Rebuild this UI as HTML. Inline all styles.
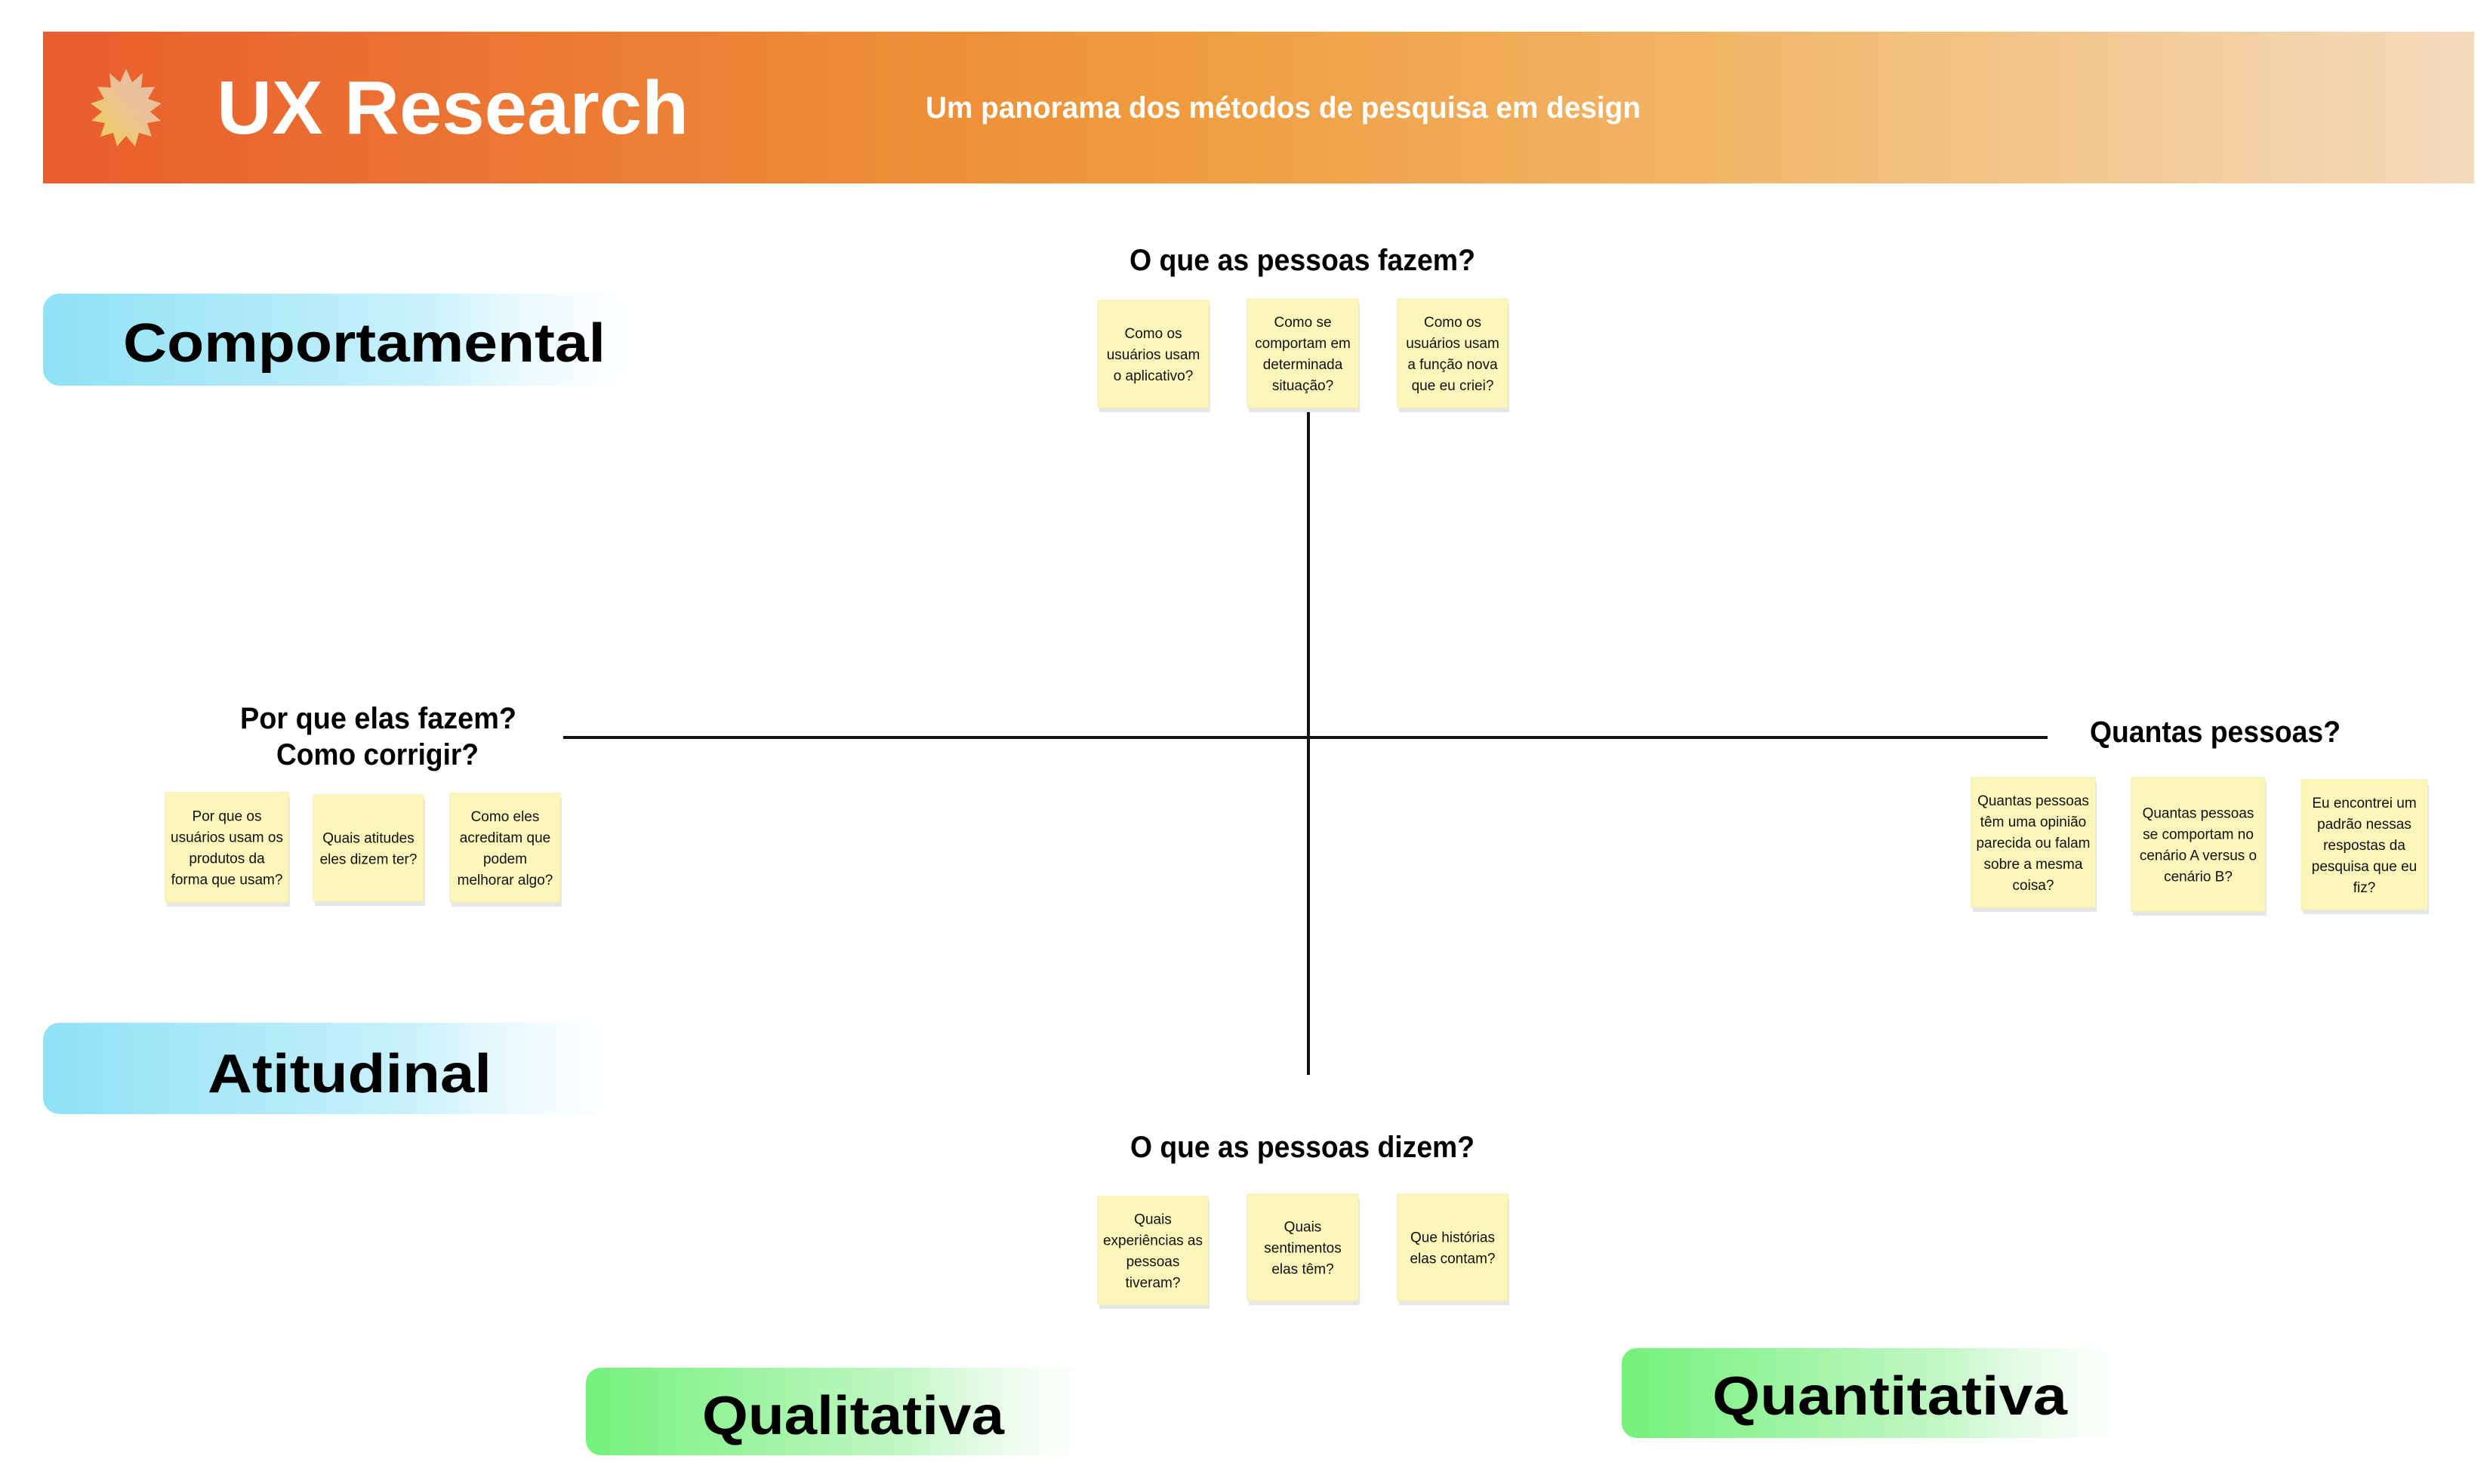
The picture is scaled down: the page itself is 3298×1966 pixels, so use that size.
<!DOCTYPE html>
<html><head><meta charset="utf-8">
<style>
html,body{margin:0;padding:0;background:#fff;}
svg{display:block;}
.h{font-family:"Liberation Sans",sans-serif;font-weight:bold;}
.s{font-family:"Liberation Sans Narrow","Liberation Sans",sans-serif;font-size:19px;fill:#111;text-anchor:middle;}
</style></head>
<body>
<svg width="3298" height="1966" viewBox="0 0 3298 1966" xmlns="http://www.w3.org/2000/svg">
<defs>
<linearGradient id="hdr" x1="0" y1="0" x2="1" y2="0">
<stop offset="0" stop-color="#e95d2d"/>
<stop offset="0.45" stop-color="#ef9a3c"/>
<stop offset="0.7" stop-color="#f2b76a"/>
<stop offset="1" stop-color="#f4dbbd"/>
</linearGradient>
<linearGradient id="cy" x1="0" y1="0" x2="1" y2="0">
<stop offset="0" stop-color="#8fe1f6"/>
<stop offset="0.6" stop-color="#c9f1fb"/>
<stop offset="1" stop-color="#ffffff" stop-opacity="0"/>
</linearGradient>
<linearGradient id="gr" x1="0" y1="0" x2="1" y2="0">
<stop offset="0" stop-color="#74f17b"/>
<stop offset="0.6" stop-color="#c4f7c7"/>
<stop offset="1" stop-color="#ffffff" stop-opacity="0"/>
</linearGradient>
<linearGradient id="st" x1="0" y1="1" x2="1" y2="0">
<stop offset="0" stop-color="#f1cf55"/>
<stop offset="0.6" stop-color="#e9c09a"/>
<stop offset="1" stop-color="#e8bfa0"/>
</linearGradient>
</defs>

<!-- header -->
<rect x="57" y="42" width="3220" height="201" fill="url(#hdr)"/>
<polygon id="star" fill="url(#st)" points="167,91 175,109 189,97 187,116 205,115 196,131 214,137 199,148 213,160 195,163 201,181 184,176 179,194 167,180 155,194 150,176 133,181 139,163 121,160 135,148 120,137 138,131 129,115 147,116 145,97 159,109"/>
<text class="h" x="287" y="177" font-size="100" fill="#fff" textLength="625" lengthAdjust="spacingAndGlyphs">UX Research</text>
<text class="h" x="1226" y="156" font-size="40" fill="#fff" textLength="947" lengthAdjust="spacingAndGlyphs">Um panorama dos métodos de pesquisa em design</text>

<!-- pills -->
<rect x="57" y="389" width="850" height="122" rx="22" fill="url(#cy)"/>
<text class="h" x="163" y="479" font-size="72" fill="#000" textLength="639" lengthAdjust="spacingAndGlyphs">Comportamental</text>
<rect x="57" y="1355" width="820" height="121" rx="22" fill="url(#cy)"/>
<text class="h" x="275" y="1447" font-size="72" fill="#000" textLength="376" lengthAdjust="spacingAndGlyphs">Atitudinal</text>
<rect x="776" y="1812" width="720" height="116" rx="20" fill="url(#gr)"/>
<text class="h" x="930" y="1900" font-size="72" fill="#000" textLength="400" lengthAdjust="spacingAndGlyphs">Qualitativa</text>
<rect x="2148" y="1786" width="720" height="119" rx="20" fill="url(#gr)"/>
<text class="h" x="2268" y="1874" font-size="72" fill="#000" textLength="470" lengthAdjust="spacingAndGlyphs">Quantitativa</text>

<!-- axes -->
<line x1="1733" y1="543" x2="1733" y2="1424" stroke="#111" stroke-width="4"/>
<line x1="746" y1="977" x2="2712" y2="977" stroke="#111" stroke-width="4"/>

<!-- labels -->
<text class="h" x="1496" y="358" font-size="40" fill="#000" textLength="458" lengthAdjust="spacingAndGlyphs">O que as pessoas fazem?</text>
<text class="h" x="318" y="965" font-size="40" fill="#000" textLength="366" lengthAdjust="spacingAndGlyphs">Por que elas fazem?</text>
<text class="h" x="366" y="1013" font-size="40" fill="#000" textLength="268" lengthAdjust="spacingAndGlyphs">Como corrigir?</text>
<text class="h" x="2768" y="983" font-size="40" fill="#000" textLength="332" lengthAdjust="spacingAndGlyphs">Quantas pessoas?</text>
<text class="h" x="1497" y="1533" font-size="40" fill="#000" textLength="456" lengthAdjust="spacingAndGlyphs">O que as pessoas dizem?</text>

<!-- stickies -->
<g id="notes"></g>
</svg>
<script>
var notes=[
[1454,398,147,142,["Como os","usuários usam","o aplicativo?"]],
[1652,396,147,144,["Como se","comportam em","determinada","situação?"]],
[1851,396,146,144,["Como os","usuários usam","a função nova","que eu criei?"]],
[219,1050,163,145,["Por que os","usuários usam os","produtos da","forma que usam?"]],
[415,1053,146,141,["Quais atitudes","eles dizem ter?"]],
[596,1051,146,144,["Como eles","acreditam que","podem","melhorar algo?"]],
[2611,1030,164,172,["Quantas pessoas","têm uma opinião","parecida ou falam","sobre a mesma","coisa?"]],
[2823,1030,177,177,["Quantas pessoas","se comportam no","cenário A versus o","cenário B?"]],
[3048,1033,167,172,["Eu encontrei um","padrão nessas","respostas da","pesquisa que eu","fiz?"]],
[1454,1585,146,143,["Quais","experiências as","pessoas","tiveram?"]],
[1652,1582,147,141,["Quais","sentimentos","elas têm?"]],
[1851,1582,146,141,["Que histórias","elas contam?"]]
];
var g=document.getElementById('notes'),ns="http://www.w3.org/2000/svg",h="";
notes.forEach(function(n){
 var x=n[0],y=n[1],w=n[2],hh=n[3],L=n[4];
 h+='<rect x="'+(x+2)+'" y="'+(y+6)+'" width="'+w+'" height="'+hh+'" fill="#e6e6e6"/>';
 h+='<rect x="'+x+'" y="'+y+'" width="'+w+'" height="'+hh+'" fill="#fcf6bb" stroke="#f6eea8" stroke-width="1"/>';
 var lh=28,cy=y+hh/2,start=cy-(L.length-1)*lh/2+7;
 L.forEach(function(t,i){h+='<text class="s" x="'+(x+w/2)+'" y="'+(start+i*lh)+'">'+t+'</text>';});
});
g.innerHTML=h;
</script>
</body></html>
